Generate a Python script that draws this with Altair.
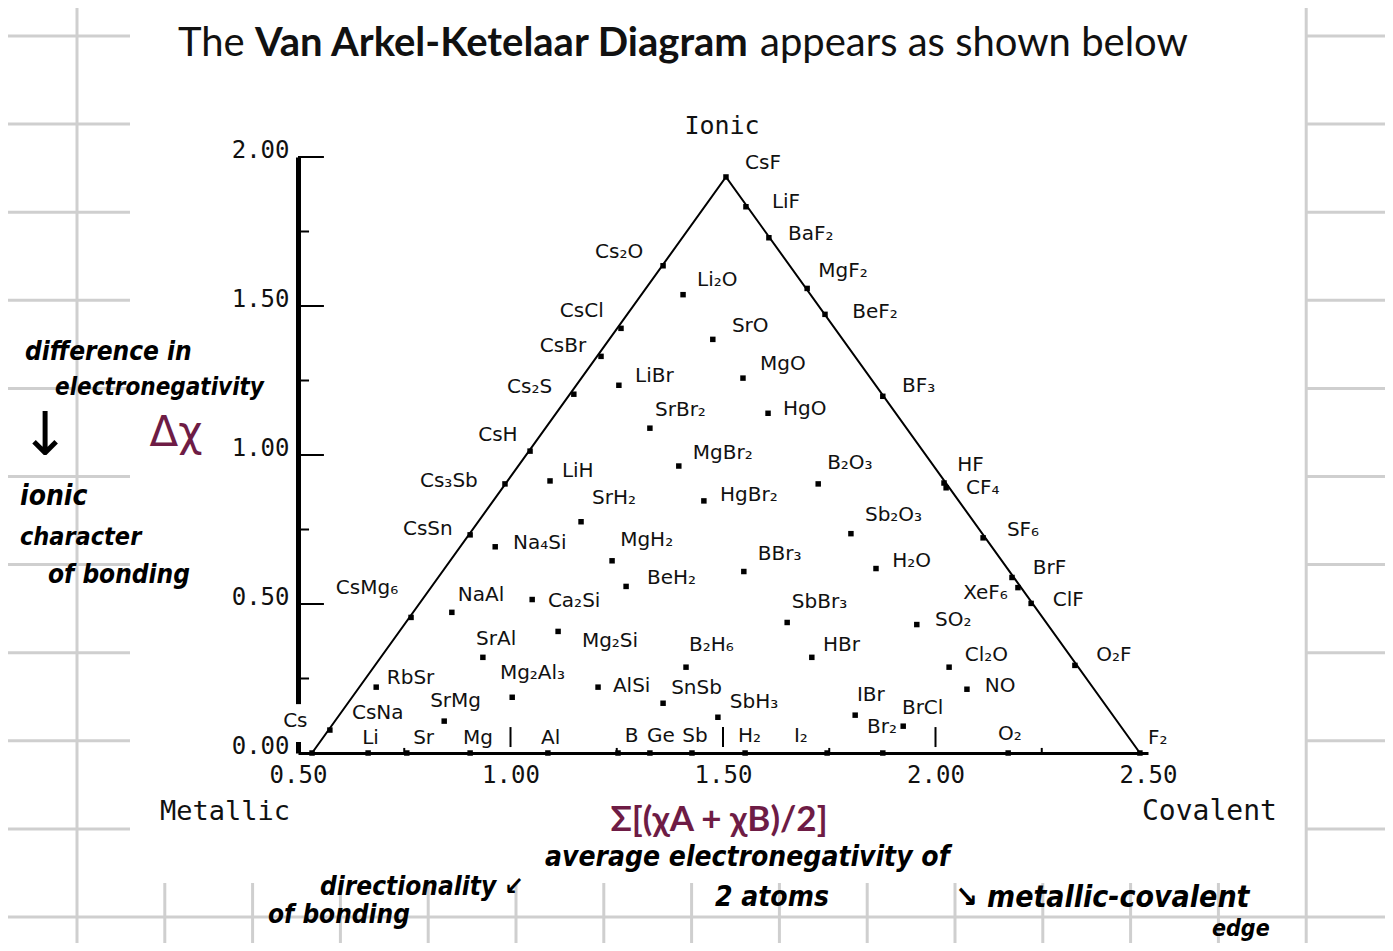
import altair as alt
import pandas as pd

# ---------------- data ----------------
compound = [
    "Cs", "CsNa", "CsMg₆", "CsSn", "Cs₃Sb", "CsH", "Cs₂S", "CsBr", "CsCl", "Cs₂O", "CsF",
    "LiF", "BaF₂", "MgF₂", "BeF₂", "BF₃", "HF", "CF₄", "SF₆", "BrF", "XeF₆", "ClF", "O₂F", "F₂",
    "Li", "Sr", "Mg", "Al", "B", "Ge", "Sb", "H₂", "I₂", "Br₂", "O₂",
    "Li₂O", "SrO", "MgO", "HgO", "LiBr", "SrBr₂", "MgBr₂", "HgBr₂", "B₂O₃", "Sb₂O₃", "H₂O",
    "BBr₃", "MgH₂", "BeH₂", "SbBr₃", "SO₂", "B₂H₆", "HBr", "Cl₂O", "NO", "SnSb", "AlSi",
    "SbH₃", "IBr", "BrCl", "LiH", "SrH₂", "Na₄Si", "NaAl", "Ca₂Si", "SrAl", "Mg₂Si",
    "Mg₂Al₃", "RbSr", "SrMg",
]
avg_en = [
    0.533, 0.575, 0.766, 0.905, 0.987, 1.046, 1.149, 1.213, 1.260, 1.359, 1.507,
    1.554, 1.608, 1.698, 1.740, 1.876, 2.020, 2.025, 2.112, 2.180, 2.194, 2.225, 2.328, 2.481,
    0.665, 0.756, 0.905, 1.088, 1.253, 1.328, 1.427, 1.552, 1.745, 1.876, 2.171,
    1.406, 1.476, 1.547, 1.606, 1.255, 1.328, 1.396, 1.455, 1.724, 1.801, 1.860,
    1.549, 1.239, 1.272, 1.651, 1.956, 1.413, 1.709, 2.032, 2.074, 1.359, 1.206,
    1.488, 1.811, 1.924, 1.093, 1.166, 0.964, 0.862, 1.051, 0.935, 1.112,
    1.004, 0.684, 0.844,
]
delta_en = [
    0.000, 0.077, 0.455, 0.732, 0.903, 1.013, 1.204, 1.331, 1.425, 1.635, 1.933,
    1.833, 1.729, 1.559, 1.472, 1.197, 0.906, 0.890, 0.722, 0.589, 0.555, 0.502, 0.294, 0.000,
    0.0, 0.0, 0.0, 0.0, 0.0, 0.0, 0.0, 0.0, 0.0, 0.0, 0.0,
    1.538, 1.388, 1.258, 1.140, 1.234, 1.090, 0.963, 0.846, 0.903, 0.736, 0.619,
    0.609, 0.645, 0.559, 0.438, 0.431, 0.288, 0.321, 0.288, 0.214, 0.167, 0.221,
    0.120, 0.127, 0.090, 0.913, 0.776, 0.692, 0.472, 0.515, 0.321, 0.408,
    0.187, 0.221, 0.107,
]
label_x = [
    0.465, 0.627, 0.589, 0.747, 0.787, 0.924, 0.992, 1.069, 1.116, 1.199, 1.552,
    1.615, 1.653, 1.724, 1.804, 1.921, 2.051, 2.072, 2.168, 2.229, 2.065, 2.276, 2.378, 2.500,
    0.651, 0.771, 0.888, 1.072, 1.269, 1.321, 1.404, 1.535, 1.667, 1.839, 2.147,
    1.439, 1.521, 1.587, 1.641, 1.293, 1.340, 1.429, 1.493, 1.745, 1.834, 1.898,
    1.582, 1.258, 1.321, 1.662, 1.999, 1.420, 1.735, 2.069, 2.116, 1.378, 1.241,
    1.516, 1.815, 1.921, 1.121, 1.192, 1.006, 0.876, 1.088, 0.919, 1.168,
    0.975, 0.709, 0.811,
]
label_y = [
    0.107, 0.134, 0.554, 0.752, 0.913, 1.067, 1.228, 1.366, 1.483, 1.681, 1.980,
    1.849, 1.742, 1.617, 1.480, 1.232, 0.966, 0.889, 0.748, 0.621, 0.537, 0.513, 0.329, 0.050,
    0.050, 0.050, 0.050, 0.050, 0.057, 0.057, 0.057, 0.057, 0.057, 0.087, 0.064,
    1.587, 1.433, 1.305, 1.154, 1.265, 1.151, 1.007, 0.866, 0.973, 0.799, 0.644,
    0.668, 0.715, 0.587, 0.507, 0.446, 0.362, 0.362, 0.329, 0.225, 0.218, 0.225,
    0.171, 0.195, 0.151, 0.946, 0.856, 0.705, 0.530, 0.510, 0.383, 0.376,
    0.268, 0.252, 0.174,
]

# triangle vertices: Cs (metallic), CsF (ionic), F2 (covalent)
tri_x = [0.533, 1.507, 2.481]
tri_y = [0.0, 1.933, 0.0]

x_tick_values = [0.5, 1.0, 1.5, 2.0, 2.5]
y_tick_values = [0.0, 0.5, 1.0, 1.5, 2.0]
y_major_ticks = [0.5, 1.0, 1.5, 2.0]
y_minor_ticks = [0.25, 0.75, 1.25, 1.75]
x_major_ticks = [1.0, 1.5, 2.0]
x_minor_ticks = [0.75, 1.25, 1.75, 2.25]

# ---------------- layout ----------------
W, H = 850, 596          # plot box (axes) size in px
OX, OY = 298, 157        # page position of plot origin
MAROON = "#6e1c45"
MONO = "DejaVu Sans Mono"
HW = "DejaVu Sans Condensed, Liberation Sans Narrow, DejaVu Sans"

xs = alt.Scale(domain=[0.5, 2.5], nice=False, zero=False)
ys = alt.Scale(domain=[0.0, 2.0], nice=False, zero=False)

XAX = alt.Axis(values=x_tick_values, format=".2f", title=None, grid=False, ticks=False,
               domainColor="black", domainWidth=3, labelFont=MONO, labelFontSize=24,
               labelColor="#111111", labelPadding=10, labelFlush=False,
               labelOverlap=False)
YAX = alt.Axis(values=y_tick_values, format=".2f", title=None, grid=False, ticks=False,
               domainColor="black", domainWidth=5, labelFont=MONO, labelFontSize=24,
               labelColor="#111111", labelPadding=9, labelBaseline="alphabetic",
               labelFlush=False, labelOverlap=False)

df = pd.DataFrame({"name": compound, "x": avg_en, "y": delta_en,
                   "lx": label_x, "ly": label_y})
tri = pd.DataFrame({"x": tri_x, "y": tri_y, "i": [0, 1, 2]})
one = pd.DataFrame({"a": [0]})


def X(field):
    return alt.X(field, scale=xs, axis=XAX)


def Y(field):
    return alt.Y(field, scale=ys, axis=YAX)


def px(v):
    return alt.value(v - OX)


def py(v):
    return alt.value(v - OY)


layers = []

# notebook grid visible around the pasted picture
GRID = "#cfcfcf"


def seg(x1, x2, y1, y2):
    return alt.Chart(one).mark_rule(color=GRID, strokeWidth=3).encode(
        x=px(x1), x2=px(x2), y=py(y1), y2=py(y2))


for k in range(16):
    gx = 77 + 87.8 * k
    if k in (0, 14):
        layers.append(seg(gx, gx, 0, 951))
    elif k < 14:
        layers.append(seg(gx, gx, 883, 951))
for k in range(11):
    gy = 36 + 88.1 * k
    if k == 10:
        layers.append(seg(0, 1393, gy, gy))
    else:
        layers.append(seg(0, 130, gy, gy))
        layers.append(seg(1306, 1393, gy, gy))

points = alt.Chart(df).mark_square(size=30, color="black", opacity=1).encode(
    x=X("x:Q"), y=Y("y:Q"))

triangle = alt.Chart(tri).mark_line(color="black", strokeWidth=2).encode(
    x=X("x:Q"), y=Y("y:Q"), order="i:O")


def vticks(values, length):
    d = pd.DataFrame({"v": values})
    return alt.Chart(d).mark_rule(color="black", strokeWidth=2).transform_calculate(
        x0="0.5", x1=str(0.5 + length)).encode(
        y=Y("v:Q"), x=X("x0:Q"), x2="x1:Q")


def hticks(values, y0, y1):
    d = pd.DataFrame({"v": values})
    return alt.Chart(d).mark_rule(color="black", strokeWidth=2).transform_calculate(
        y0=str(y0), y1=str(y1)).encode(
        x=X("v:Q"), y=Y("y0:Q"), y2="y1:Q")


# gap in the y axis behind the "Cs" label
gap = alt.Chart(one).mark_rect(color="white").transform_calculate(
    xa="0.489", xb="0.511", ya="0.037", yb="0.164").encode(
    x=X("xa:Q"), x2="xb:Q", y=Y("ya:Q"), y2="yb:Q")

labels = alt.Chart(df).mark_text(align="left", baseline="middle", font="DejaVu Sans",
                                 fontSize=20, color="#111111").encode(
    x=X("lx:Q"), y=Y("ly:Q"), text="name:N")


def txt(s, x, y, size, font, color="#111111", weight="normal", style="normal",
        align="left"):
    return alt.Chart(one).mark_text(
        text=s, align=align, baseline="middle", font=font, fontSize=size,
        fontWeight=weight, fontStyle=style, color=color).encode(
        x=px(x), y=py(y))


def hw(s, x, y, size, align="left"):
    return txt(s, x, y, size, HW, color="black", weight="bold", style="italic",
               align=align)


texts = [
    txt("The", 178, 44, 40, "Lato"),
    txt("Van Arkel-Ketelaar Diagram", 255, 44, 40, "Lato", weight="bold"),
    txt("appears as shown below", 760, 44, 40, "Lato"),
    txt("Ionic", 722, 126, 25, MONO, align="center"),
    txt("Metallic", 160, 812, 27, MONO),
    txt("Covalent", 1142, 812, 28, MONO),
    txt("Δχ", 176, 433, 42, "DejaVu Sans", color=MAROON, align="center"),
    txt("Σ[(χA + χB)/2]", 719, 820, 35, "Lato", color=MAROON, weight="bold",
        align="center"),
    # handwritten notes
    hw("difference in", 25, 352, 26),
    hw("electronegativity", 55, 388, 24),
    txt("↓", 45, 437, 60, "DejaVu Sans", color="black", align="center"),
    hw("ionic", 20, 497, 28),
    hw("character", 20, 537, 25),
    hw("of bonding", 48, 575, 26),
    hw("average electronegativity of", 545, 858, 28),
    hw("2 atoms", 715, 898, 28),
    hw("directionality ↙", 320, 887, 26),
    hw("of bonding", 268, 915, 26),
    hw("↘ metallic-covalent", 955, 898, 30),
    hw("edge", 1212, 929, 23),
]

layers += [
    points,
    triangle,
    vticks(y_major_ticks, 0.061),
    vticks(y_minor_ticks, 0.026),
    hticks(x_major_ticks, 0.02, 0.087),
    hticks(x_minor_ticks, 0.0, 0.017),
    gap,
    labels,
] + texts

chart = alt.layer(*layers).properties(
    width=W, height=H,
    autosize=alt.AutoSizeParams(type="none"),
    padding={"left": 290, "top": 149, "right": 237, "bottom": 190},
    background="white",
).configure_view(strokeWidth=0)

chart.save("out.html", embed_options={"renderer": "svg", "actions": False})
